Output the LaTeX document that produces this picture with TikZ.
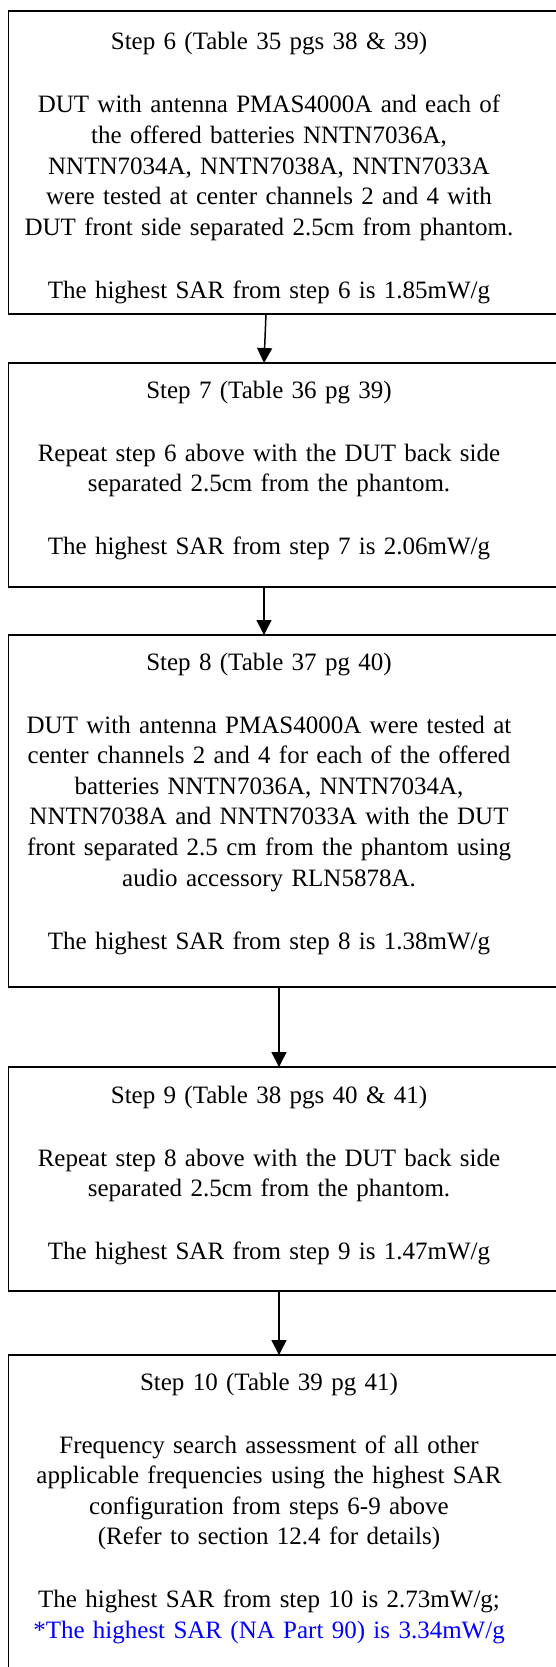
\documentclass[tikz,border=0pt]{standalone}
\usepackage{fontspec}
\setmainfont{Liberation Serif}
\usetikzlibrary{arrows.meta}
\definecolor{sarblue}{RGB}{0,0,255}
\tikzset{
  stepbox/.style={draw, line width=1.8pt, minimum width=600pt, anchor=north west, inner sep=0pt, outer sep=0pt},
  steptext/.style={anchor=base, text width=540pt, align=center, inner sep=0pt, font=\fontsize{25}{30.6}\selectfont},
  flow/.style={line width=1.5pt, -{Triangle[width=15pt,length=15pt]}}
}
\begin{document}
\begin{tikzpicture}[x=1pt,y=-1pt]
\useasboundingbox (0,0) rectangle (556,1667);
\clip (0,0) rectangle (556,1667);

\node[stepbox, minimum height=303pt] (b6) at (8.5,11) {};
\node[stepbox, minimum height=224pt] (b7) at (8.5,363) {};
\node[stepbox, minimum height=352pt] (b8) at (8.5,635) {};
\node[stepbox, minimum height=224pt] (b9) at (8.5,1067) {};
\node[stepbox, minimum height=400pt] (b10) at (8.5,1355) {};

\node[steptext] (t6) at (269,50) {Step 6 (Table 35 pgs 38 \& 39)\\[32.4pt]
DUT with antenna PMAS4000A and each of\\
the offered batteries NNTN7036A,\\
NNTN7034A, NNTN7038A, NNTN7033A\\
were tested at center channels 2 and 4 with\\
DUT front side separated 2.5cm from phantom.\\[32.4pt]
The highest SAR from step 6 is 1.85mW/g};

\node[steptext] (t7) at (269,398) {Step 7 (Table 36 pg 39)\\[32.4pt]
Repeat step 6 above with the DUT back side\\
separated 2.5cm from the phantom.\\[32.4pt]
The highest SAR from step 7 is 2.06mW/g};

\node[steptext] (t8) at (269,670) {Step 8 (Table 37 pg 40)\\[32.4pt]
DUT with antenna PMAS4000A were tested at\\
center channels 2 and 4 for each of the offered\\
batteries NNTN7036A, NNTN7034A,\\
NNTN7038A and NNTN7033A with the DUT\\
front separated 2.5 cm from the phantom using\\
audio accessory RLN5878A.\\[32.4pt]
The highest SAR from step 8 is 1.38mW/g};

\node[steptext] (t9) at (269,1103) {Step 9 (Table 38 pgs 40 \& 41)\\[32.4pt]
Repeat step 8 above with the DUT back side\\
separated 2.5cm from the phantom.\\[32.4pt]
The highest SAR from step 9 is 1.47mW/g};

\node[steptext] (t10) at (269,1390) {Step 10 (Table 39 pg 41)\\[32.4pt]
Frequency search assessment of all other\\
applicable frequencies using the highest SAR\\
configuration from steps 6-9 above\\
(Refer to section 12.4 for details)\\[32.4pt]
The highest SAR from step 10 is 2.73mW/g;\\
{\color{sarblue}*The highest SAR (NA Part 90) is 3.34mW/g}};

\draw[flow] ([xshift=257.5pt]b6.south west) -- ([xshift=255.5pt]b7.north west);
\draw[flow] ([xshift=255.5pt]b7.south west) -- ([xshift=255.5pt]b8.north west);
\draw[flow] ([xshift=270.5pt]b8.south west) -- ([xshift=270.5pt]b9.north west);
\draw[flow] ([xshift=270.5pt]b9.south west) -- ([xshift=270.5pt]b10.north west);
\end{tikzpicture}
\end{document}
